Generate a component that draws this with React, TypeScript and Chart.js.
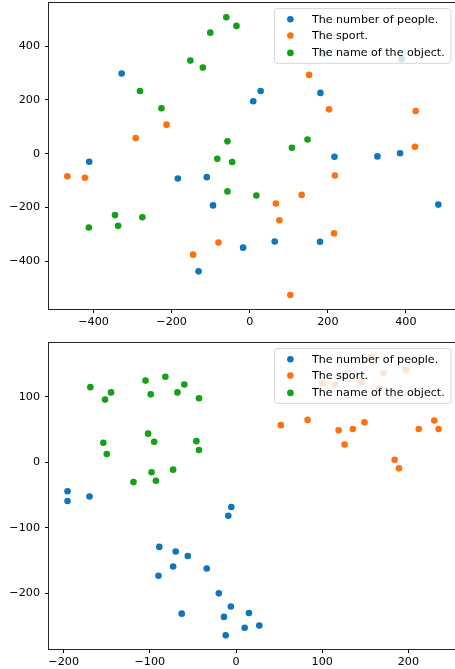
import React, { useEffect, useRef } from 'react';
import { Chart, registerables } from 'chart.js';

Chart.register(...registerables);

// ---------- data ----------
const SERIES_LABELS = ['The number of people.', 'The sport.', 'The name of the object.'];
const SERIES_COLORS = ['#0f75bc', '#fe7010', '#15a015'];

// top panel
const topPeople: [number, number][] = [
  [-328, 298], [-411, -30], [-184, -92], [-110, -87], [-94, -192], [-131, -437],
  [-17, -349], [9, 195], [28, 233], [181, 226], [64, -326], [180, -327],
  [217, -11], [327, -10], [385, 2], [483, -189], [389, 352], [190, 371],
];
const topSport: [number, number][] = [
  [-467, -84], [-422, -89], [-292, 58], [-213, 108], [-80, -330], [-145, -375],
  [152, 293], [203, 165], [425, 159], [423, 26], [218, -81], [133, -153],
  [67, -185], [76, -247], [216, -296], [104, -525],
];
const topObject: [number, number][] = [
  [-60, 507], [-101, 450], [-152, 346], [-120, 320], [-281, 233], [-226, 169],
  [-57, 46], [-83, -19], [-57, -140], [-345, -228], [-337, -268], [-275, -236],
  [-412, -274], [-34, 475], [-45, -31], [17, -155], [108, 22], [148, 53],
];
const topXTicks = [-400, -200, 0, 200, 400];
const topYTicks = [-400, -200, 0, 200, 400];
const topXRange = [-514, 530];
const topYRange = [-577, 559];

// bottom panel
const bottomPeople: [number, number][] = [
  [-195.5, -44], [-195.5, -59], [-170, -52], [-89, -129], [-90, -173], [-70, -136],
  [-73, -159], [-56, -143], [-34, -162], [-20, -200], [-14, -236], [-63, -231],
  [-12, -264], [-5.5, -68], [-9, -81.5], [-6, -220], [15, -230], [10, -252.5], [27, -249],
];
const bottomSport: [number, number][] = [
  [52, 57], [83, 65], [119, 49], [126, 27.5], [135.5, 51], [149, 61.5],
  [212, 51], [230, 64], [235, 51], [184, 4], [189, -9], [100, 121],
  [115, 119], [145.5, 123], [158, 161], [171, 137], [197, 141], [165, 112],
];
const bottomObject: [number, number][] = [
  [-169, 115], [-152, 96], [-145, 107], [-105, 125], [-99, 104], [-82, 131],
  [-68, 107], [-60, 119], [-43, 98], [-154, 30], [-150, 13], [-102, 44],
  [-95, 31.5], [-46, 32.5], [-43, 19], [-98, -15], [-93, -28], [-73, -11], [-119, -30],
];
const bottomXTicks = [-200, -100, 0, 100, 200];
const bottomYTicks = [-200, -100, 0, 100];
const bottomXRange = [-217, 256];
const bottomYRange = [-285, 182];

// ---------- helpers ----------
const FONT_FAMILY = "'DejaVu Sans', sans-serif";
const FONT_SIZE = 11.2;
const LEGEND_FONT_SIZE = 11.1;

const fmt = (v: number | string) => String(v).replace('-', '\u2212');

const framePlugin = {
  id: 'frameAndLegend',
  afterDatasetsDraw(chart: any) {
    const { ctx, chartArea } = chart;
    const { left, top, right, bottom } = chartArea;
    ctx.save();
    ctx.strokeStyle = '#262626';
    ctx.lineWidth = 1;
    ctx.strokeRect(Math.round(left) - 0.5, Math.round(top) - 0.5, Math.round(right - left) + 1, Math.round(bottom - top) + 1);

    // legend (matplotlib style, upper right)
    ctx.font = `${LEGEND_FONT_SIZE}px ${FONT_FAMILY}`;
    const widths = SERIES_LABELS.map((l) => ctx.measureText(l).width);
    const maxW = Math.max(...widths);
    const textOffset = 37.5;
    const boxW = textOffset + maxW + 6.3;
    const boxH = 54.7;
    const boxR = right - 5.7;
    const boxL = boxR - boxW;
    const boxT = top + 5.3;
    const r = 2.5;
    ctx.beginPath();
    ctx.moveTo(boxL + r, boxT);
    ctx.lineTo(boxR - r, boxT);
    ctx.arcTo(boxR, boxT, boxR, boxT + r, r);
    ctx.lineTo(boxR, boxT + boxH - r);
    ctx.arcTo(boxR, boxT + boxH, boxR - r, boxT + boxH, r);
    ctx.lineTo(boxL + r, boxT + boxH);
    ctx.arcTo(boxL, boxT + boxH, boxL, boxT + boxH - r, r);
    ctx.lineTo(boxL, boxT + r);
    ctx.arcTo(boxL, boxT, boxL + r, boxT, r);
    ctx.closePath();
    ctx.fillStyle = 'rgba(255,255,255,0.8)';
    ctx.fill();
    ctx.strokeStyle = 'rgba(204,204,204,0.8)';
    ctx.lineWidth = 1;
    ctx.stroke();

    const rows = [10.7, 27, 44.3];
    SERIES_LABELS.forEach((label, i) => {
      const cy = boxT + rows[i];
      ctx.beginPath();
      ctx.fillStyle = SERIES_COLORS[i];
      ctx.arc(boxL + 16, cy, 3.3, 0, Math.PI * 2);
      ctx.fill();
      ctx.fillStyle = '#000';
      ctx.textBaseline = 'middle';
      ctx.textAlign = 'left';
      ctx.fillText(label, boxL + textOffset, cy + 0.5);
    });
    ctx.restore();
  },
};

type PanelProps = {
  top: number;
  series: [number, number][][];
  xTicks: number[];
  yTicks: number[];
  xRange: number[];
  yRange: number[];
};

function Panel({ top, series, xTicks, yTicks, xRange, yRange }: PanelProps) {
  const ref = useRef<HTMLCanvasElement>(null);
  useEffect(() => {
    if (!ref.current) return;
    const chart = new Chart(ref.current, {
      type: 'scatter',
      data: {
        datasets: series.map((pts, i) => ({
          label: SERIES_LABELS[i],
          data: pts.map(([x, y]) => ({ x, y })),
          backgroundColor: SERIES_COLORS[i],
          borderColor: SERIES_COLORS[i],
          pointRadius: 3.3,
          pointBorderWidth: 0,
          pointHoverRadius: 3.3,
        })),
      },
      options: {
        responsive: false,
        animation: false,
        devicePixelRatio: 1,
        layout: { padding: { top: 3, right: 1.3, left: 0, bottom: 0 } },
        plugins: { legend: { display: false }, tooltip: { enabled: false } },
        scales: {
          x: {
            type: 'linear',
            min: xRange[0],
            max: xRange[1],
            afterBuildTicks: (s: any) => { s.ticks = xTicks.map((v) => ({ value: v })); },
            afterFit: (s: any) => {
              s.height = 22;
              s.paddingLeft = 0;
              s.paddingRight = 0;
            },
            grid: { drawOnChartArea: false, drawTicks: true, tickLength: 4, color: '#000', lineWidth: 1 },
            border: { display: false },
            ticks: {
              color: '#000',
              padding: 2,
              maxRotation: 0,
              font: { family: FONT_FAMILY, size: FONT_SIZE },
              callback: (v: any) => fmt(v),
            },
          },
          y: {
            type: 'linear',
            min: yRange[0],
            max: yRange[1],
            afterBuildTicks: (s: any) => { s.ticks = yTicks.map((v) => ({ value: v })); },
            afterFit: (s: any) => {
              s.width = 49;
              s.paddingTop = 0;
              s.paddingBottom = 0;
            },
            grid: { drawOnChartArea: false, drawTicks: true, tickLength: 4, color: '#000', lineWidth: 1 },
            border: { display: false },
            ticks: {
              color: '#000',
              padding: 5,
              font: { family: FONT_FAMILY, size: FONT_SIZE },
              callback: (v: any) => fmt(v),
            },
          },
        },
      },
      plugins: [framePlugin],
    } as any);
    return () => chart.destroy();
  }, []);
  return (
    <canvas
      ref={ref}
      width={460}
      height={331}
      style={{ position: 'absolute', left: 0, top, width: 460, height: 331 }}
    />
  );
}

export default function App() {
  return (
    <div
      style={{
        position: 'absolute',
        left: 0,
        top: 0,
        width: 455,
        height: 669,
        overflow: 'hidden',
        background: '#fff',
      }}
    >
      <Panel
        top={0}
        series={[topPeople, topSport, topObject]}
        xTicks={topXTicks}
        yTicks={topYTicks}
        xRange={topXRange}
        yRange={topYRange}
      />
      <Panel
        top={340}
        series={[bottomPeople, bottomSport, bottomObject]}
        xTicks={bottomXTicks}
        yTicks={bottomYTicks}
        xRange={bottomXRange}
        yRange={bottomYRange}
      />
    </div>
  );
}
